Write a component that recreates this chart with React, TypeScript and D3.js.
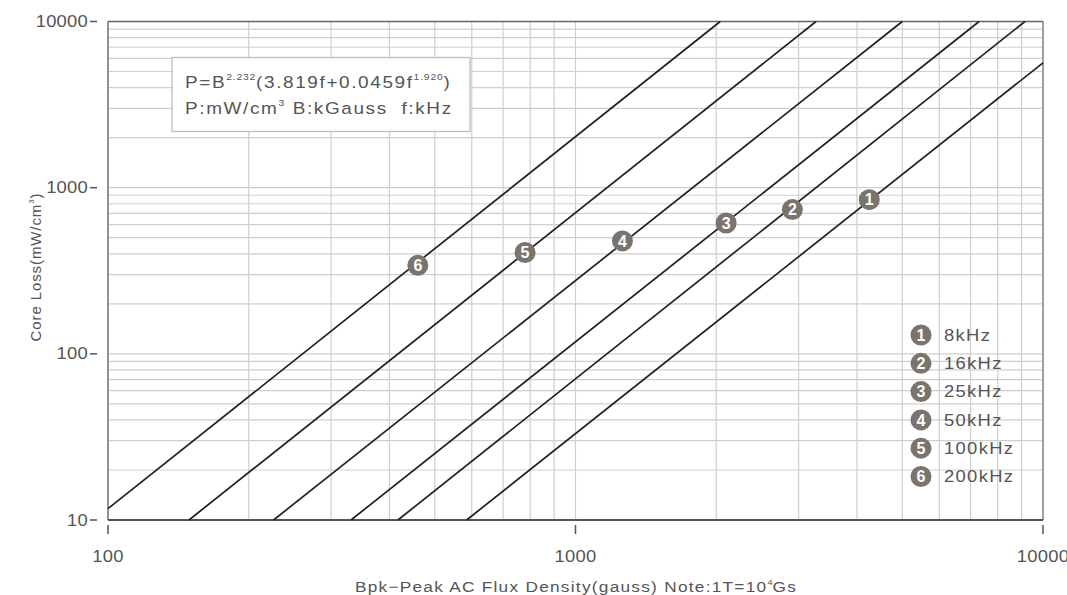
import React from "react";
import * as d3 from "d3";

const frequencies = ["8kHz", "16kHz", "25kHz", "50kHz", "100kHz", "200kHz"];
const markerLabels = ["1", "2", "3", "4", "5", "6"];
const lineStartB = [585, 417, 331, 226, 149, 100];
const lineStartP = [10, 10, 10, 10, 10, 11.7];
const lineEndB = [10000, 9150, 7300, 5000, 3270, 2040];
const lineEndP = [5640, 10000, 10000, 10000, 10000, 10000];
const markerB = [4250, 2910, 2100, 1260, 780, 460];
const markerP = [847, 738, 613, 478, 407, 341];
const xTicks = [100, 1000, 10000];
const yTicks = [10, 100, 1000, 10000];

const W = 1067;
const H = 595;
const FONT = "'Liberation Sans', Arial, Helvetica, sans-serif";
const TXT = "#555";
const MARK = "#7b746d";
const SX = 1.15;

function gridValues(lo: number, hi: number) {
  const out: number[] = [];
  for (let d = lo; d < hi; d *= 10) {
    for (let k = 1; k <= 9; k++) out.push(k * d);
  }
  out.push(hi);
  return out;
}

function ST(props: {
  x: number;
  y: number;
  anchor?: string;
  size: number;
  ls?: number;
  children: React.ReactNode;
}) {
  return (
    <text
      transform={`translate(${props.x},${props.y}) scale(${SX},1)`}
      textAnchor={props.anchor || "start"}
      fontSize={props.size}
      fill={TXT}
      letterSpacing={props.ls || 0}
      style={{ whiteSpace: "pre" }}
    >
      {props.children}
    </text>
  );
}

export default function App() {
  const x = d3.scaleLog().domain([100, 10000]).range([108, 1043]);
  const y = d3.scaleLog().domain([10, 10000]).range([520, 21.5]);
  const line = d3
    .line<[number, number]>()
    .x((d) => x(d[0]))
    .y((d) => y(d[1]));

  const xGrid = gridValues(100, 10000);
  const yGrid = gridValues(10, 10000);

  return (
    <svg
      width={W}
      height={H}
      style={{ position: "absolute", left: 0, top: 0, background: "#fff" }}
      fontFamily={FONT}
    >
      {/* grid */}
      {xGrid.map((v, i) => (
        <line key={"xg" + i} x1={x(v)} x2={x(v)} y1={y(10)} y2={y(10000)} stroke="#cfcfcf" strokeWidth={1.2} />
      ))}
      {yGrid.map((v, i) => (
        <line key={"yg" + i} x1={x(100)} x2={x(10000)} y1={y(v)} y2={y(v)} stroke="#cfcfcf" strokeWidth={1.2} />
      ))}
      {/* frame */}
      <line x1={x(100)} x2={x(10000)} y1={y(10000)} y2={y(10000)} stroke="#666" strokeWidth={1.5} />
      <line x1={x(10000)} x2={x(10000)} y1={y(10)} y2={y(10000)} stroke="#888" strokeWidth={1.5} />
      <line x1={x(100)} x2={x(100)} y1={y(10)} y2={y(10000)} stroke="#777" strokeWidth={1.5} />
      <line x1={x(100)} x2={x(10000)} y1={y(10)} y2={y(10)} stroke="#555" strokeWidth={1.8} />

      {/* formula box */}
      <rect x={172} y={57.5} width={298} height={74} fill="#fff" stroke="#bdbdbd" strokeWidth={1.3} />
      <ST x={185} y={88} size={16.5} ls={1.4}>
        P=B
        <tspan fontSize={9} dy={-8} letterSpacing={0.7}>2.232</tspan>
        <tspan dy={8}>(3.819f+0.0459f</tspan>
        <tspan fontSize={9} dy={-8} letterSpacing={0.7}>1.920</tspan>
        <tspan dy={8}>)</tspan>
      </ST>
      <ST x={185} y={114} size={16.5} ls={1.4}>
        P:mW/cm
        <tspan fontSize={9} dy={-8}>3</tspan>
        <tspan dy={8}>{" B:kGauss  f:kHz"}</tspan>
      </ST>

      {/* curves */}
      {frequencies.map((f, i) => (
        <path
          key={"l" + f}
          d={line([
            [lineStartB[i], lineStartP[i]],
            [lineEndB[i], lineEndP[i]],
          ]) as string}
          fill="none"
          stroke="#231f20"
          strokeWidth={1.7}
        />
      ))}

      {/* markers on curves */}
      {markerLabels.map((m, i) => (
        <g key={"m" + m}>
          <circle cx={x(markerB[i])} cy={y(markerP[i])} r={10.5} fill={MARK} />
          <text
            x={x(markerB[i])}
            y={y(markerP[i]) + 5.8}
            textAnchor="middle"
            fontSize={16}
            fontWeight="bold"
            fill="#fff"
          >
            {m}
          </text>
        </g>
      ))}

      {/* legend */}
      {frequencies.map((f, i) => {
        const cy = 335 + i * 28.3;
        return (
          <g key={"lg" + f}>
            <circle cx={921} cy={cy} r={10.5} fill={MARK} />
            <text x={921} y={cy + 5.8} textAnchor="middle" fontSize={16} fontWeight="bold" fill="#fff">
              {markerLabels[i]}
            </text>
            <ST x={944} y={cy + 5.8} size={16} ls={1.15}>
              {f}
            </ST>
          </g>
        );
      })}

      {/* y axis ticks */}
      {yTicks.map((v) => (
        <g key={"yt" + v}>
          <line x1={90} x2={97} y1={y(v)} y2={y(v)} stroke="#555" strokeWidth={1.5} />
          <ST x={88} y={y(v) + 5.5} anchor="end" size={16} ls={0.2}>
            {String(v)}
          </ST>
        </g>
      ))}
      {/* x axis ticks */}
      {xTicks.map((v) => (
        <g key={"xt" + v}>
          <line x1={x(v)} x2={x(v)} y1={525} y2={534} stroke="#555" strokeWidth={1.5} />
          <ST x={x(v)} y={562} anchor="middle" size={16} ls={0.2}>
            {String(v)}
          </ST>
        </g>
      ))}

      {/* axis titles */}
      <ST x={576} y={592} anchor="middle" size={15} ls={1.1}>
        Bpk−Peak AC Flux Density(gauss) Note:1T=10
        <tspan fontSize={8} dy={-7} letterSpacing={0}>4</tspan>
        <tspan dy={7}>Gs</tspan>
      </ST>
      <text
        transform={`translate(41,${267}) rotate(-90)`}
        textAnchor="middle"
        fontSize={15}
        fill={TXT}
        letterSpacing={0.9}
      >
        Core Loss(mW/cm
        <tspan fontSize={8} dy={-7}>3</tspan>
        <tspan dy={7}>)</tspan>
      </text>
    </svg>
  );
}
